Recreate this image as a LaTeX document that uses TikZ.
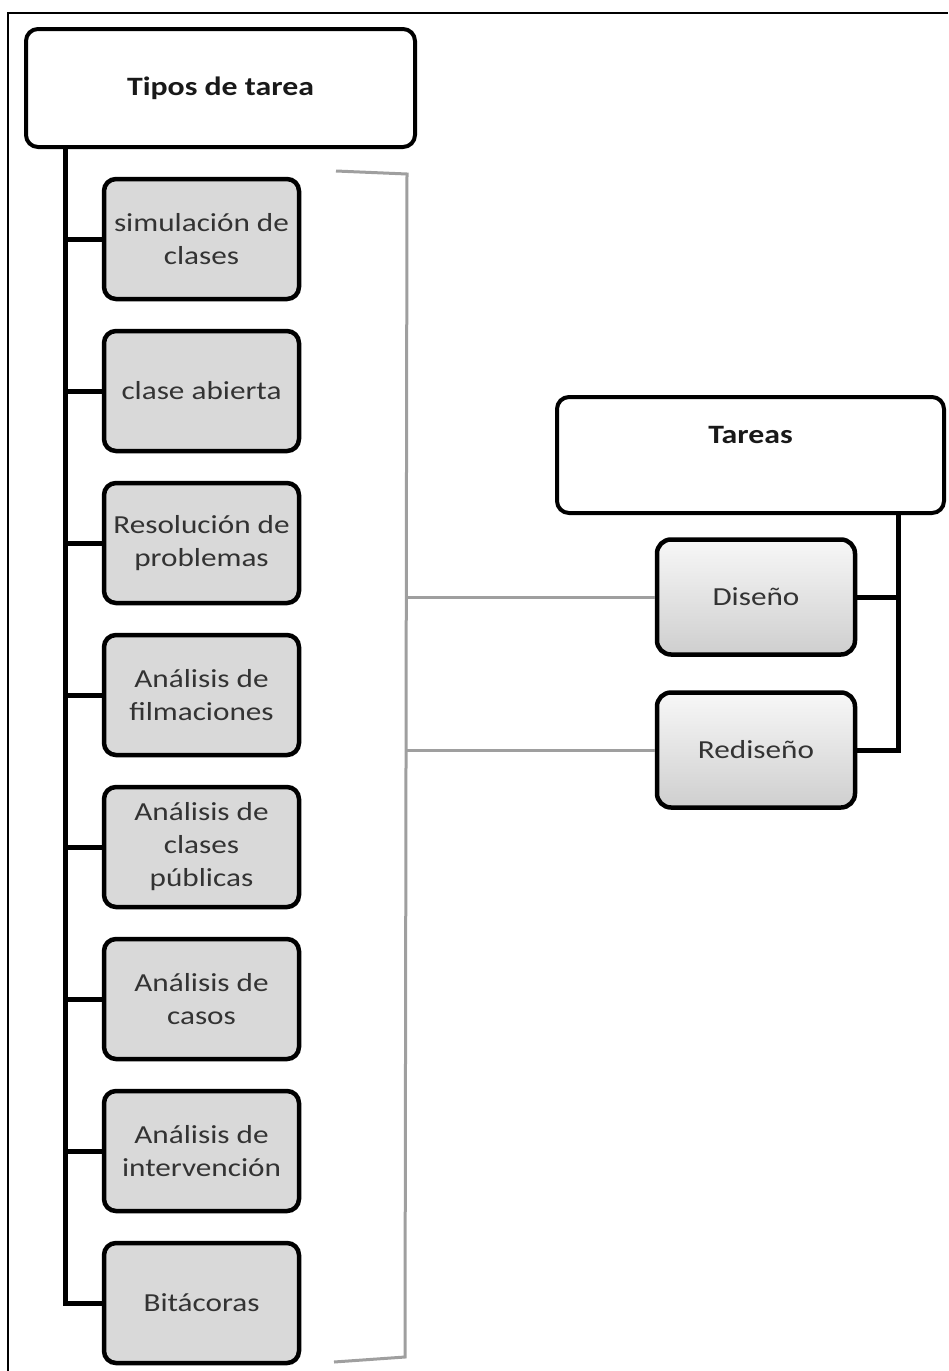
\documentclass[tikz,border=0pt]{standalone}
\usepackage{fontspec}
\setmainfont{Carlito}[FakeStretch=1.2]
\usetikzlibrary{calc}
\begin{document}
\begin{tikzpicture}[x=1pt,y=-1pt,
  headbox/.style={draw=black, line width=4pt, rounded corners=12pt, fill=white,
    font=\bfseries\fontsize{26.5}{33}\selectfont, text=black!90, align=center},
  itembox/.style={draw=black, line width=4.5pt, rounded corners=12pt, fill=gray!30,
    minimum width=195pt, minimum height=120pt, inner sep=2pt,
    font=\fontsize{26}{33}\selectfont, text=black!80, align=center},
  taskbox/.style={draw=black, line width=4.5pt, rounded corners=14pt,
    top color=gray!6, bottom color=gray!38,
    minimum width=198pt, minimum height=115pt, inner sep=2pt,
    font=\fontsize{26}{33}\selectfont, text=black!80, align=center},
  trunk/.style={draw=black, line width=5pt},
  link/.style={draw=gray!75, line width=3pt},
  frame/.style={draw=black, line width=2pt}]
  \useasboundingbox (0,0) rectangle (948,1371);

  % outer frame (top and left edges)
  \coordinate (fa) at (8,1371);
  \coordinate (fb) at (8,13);
  \coordinate (fc) at (948,13);
  \draw[frame] (fa) -- (fb) -- (fc);

  % left tree
  \node[headbox, minimum width=389pt, minimum height=118pt] (tipos) at (220.5,88) {Tipos de tarea};
  \node[itembox] (b1) at (201.5,239) {simulación de\\clases};
  \node[itembox] (b2) at (201.5,391) {clase abierta};
  \node[itembox] (b3) at (201.5,543) {Resolución de\\problemas};
  \node[itembox] (b4) at (201.5,695) {Análisis de\\filmaciones};
  \node[itembox] (b5) at (201.5,847) {Análisis de\\clases\\públicas};
  \node[itembox] (b6) at (201.5,999) {Análisis de\\casos};
  \node[itembox] (b7) at (201.5,1151) {Análisis de\\intervención};
  \node[itembox] (b8) at (201.5,1303) {Bitácoras};

  \coordinate (tx) at (65,0);
  \draw[trunk] (tipos.south -| tx) |- (b8.west);
  \foreach \b in {b1,b2,b3,b4,b5,b6,b7}
    \draw[trunk] (\b.west -| tx) -- (\b.west);

  % bracket grouping the task types
  \coordinate (ka) at (336,171);
  \coordinate (kb) at (407,174);
  \coordinate (kc) at (405,1357);
  \coordinate (kd) at (334,1362);
  \draw[link] (ka) -- (kb) -- (kc) -- (kd);

  % right tree
  \node[headbox, minimum width=387pt, minimum height=116pt, text depth=40pt] (tareas) at (750.5,455) {Tareas};
  \node[taskbox] (dis) at (756,597) {Diseño};
  \node[taskbox] (redis) at (756,750) {Rediseño};

  \coordinate (rx) at (898,0);
  \draw[trunk] (tareas.south -| rx) |- (redis.east);
  \draw[trunk] (dis.east) -- (dis.east -| rx);

  % links from the bracket to the tasks
  \draw[link] (dis.west -| kb) -- (dis.west);
  \draw[link] (redis.west -| kb) -- (redis.west);
\end{tikzpicture}
\end{document}
